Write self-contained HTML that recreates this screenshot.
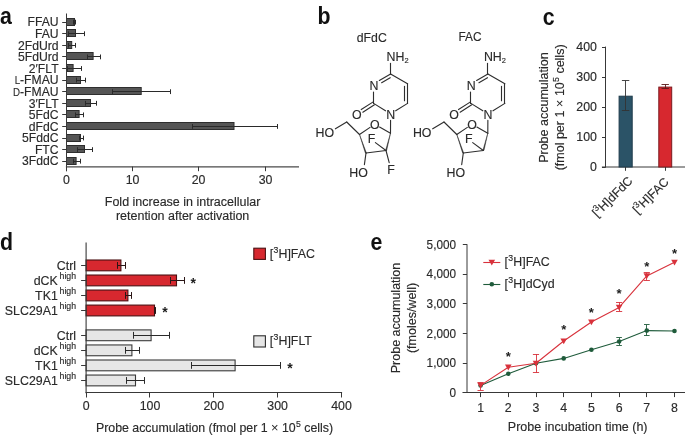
<!DOCTYPE html>
<html lang="en"><head><meta charset="utf-8"><title>Figure</title>
<style>
html,body{margin:0;padding:0;background:#fff;}
body{width:685px;height:438px;overflow:hidden;}
svg{display:block;font-family:"Liberation Sans",sans-serif;}
svg text{font-family:"Liberation Sans",sans-serif;}
</style></head><body>
<svg width="685" height="438" viewBox="0 0 685 438">
<rect width="685" height="438" fill="#ffffff"/>
<text transform="translate(0.00,24.40) scale(0.87,1)" text-anchor="start" font-size="24.5" fill="#111" font-weight="bold" >a</text>
<text transform="translate(317.60,24.30) scale(0.87,1)" text-anchor="start" font-size="24.5" fill="#111" font-weight="bold" >b</text>
<text transform="translate(542.80,24.50) scale(0.87,1)" text-anchor="start" font-size="24.5" fill="#111" font-weight="bold" >c</text>
<text transform="translate(0.00,249.90) scale(0.87,1)" text-anchor="start" font-size="24.5" fill="#111" font-weight="bold" >d</text>
<text transform="translate(370.60,250.10) scale(0.87,1)" text-anchor="start" font-size="24.5" fill="#111" font-weight="bold" >e</text>
<rect x="66.50" y="18.50" width="8.00" height="7.00" fill="#555555" stroke="#2e2e2e" stroke-width="1"/>
<line x1="73.80" y1="22.50" x2="75.80" y2="22.50" stroke="#2a2a2a" stroke-width="1" />
<line x1="73.50" y1="19.75" x2="73.50" y2="24.55" stroke="#2a2a2a" stroke-width="1" />
<line x1="75.50" y1="19.75" x2="75.50" y2="24.55" stroke="#2a2a2a" stroke-width="1" />
<line x1="62.20" y1="22.50" x2="66.40" y2="22.50" stroke="#383838" stroke-width="1" />
<text transform="translate(58.60,26.45) scale(0.975,1)" text-anchor="end" font-size="12.5" fill="#2a2a2a" stroke="#2a2a2a" stroke-width="0.15" >FFAU</text>
<rect x="66.50" y="29.50" width="9.00" height="7.00" fill="#555555" stroke="#2e2e2e" stroke-width="1"/>
<line x1="68.00" y1="33.50" x2="84.90" y2="33.50" stroke="#2a2a2a" stroke-width="1" />
<line x1="68.50" y1="31.34" x2="68.50" y2="36.14" stroke="#2a2a2a" stroke-width="1" />
<line x1="84.50" y1="31.34" x2="84.50" y2="36.14" stroke="#2a2a2a" stroke-width="1" />
<line x1="62.20" y1="33.50" x2="66.40" y2="33.50" stroke="#383838" stroke-width="1" />
<text transform="translate(58.60,38.04) scale(0.975,1)" text-anchor="end" font-size="12.5" fill="#2a2a2a" stroke="#2a2a2a" stroke-width="0.15" >FAU</text>
<rect x="66.50" y="41.50" width="5.20" height="7.00" fill="#555555" stroke="#2e2e2e" stroke-width="1"/>
<line x1="68.60" y1="45.50" x2="75.40" y2="45.50" stroke="#2a2a2a" stroke-width="1" />
<line x1="68.50" y1="42.92" x2="68.50" y2="47.72" stroke="#2a2a2a" stroke-width="1" />
<line x1="75.50" y1="42.92" x2="75.50" y2="47.72" stroke="#2a2a2a" stroke-width="1" />
<line x1="62.20" y1="45.50" x2="66.40" y2="45.50" stroke="#383838" stroke-width="1" />
<text transform="translate(58.60,49.62) scale(0.975,1)" text-anchor="end" font-size="12.5" fill="#2a2a2a" stroke="#2a2a2a" stroke-width="0.15" >2FdUrd</text>
<rect x="66.50" y="52.50" width="26.60" height="7.00" fill="#555555" stroke="#2e2e2e" stroke-width="1"/>
<line x1="87.40" y1="56.50" x2="100.00" y2="56.50" stroke="#2a2a2a" stroke-width="1" />
<line x1="87.50" y1="54.51" x2="87.50" y2="59.31" stroke="#2a2a2a" stroke-width="1" />
<line x1="100.50" y1="54.51" x2="100.50" y2="59.31" stroke="#2a2a2a" stroke-width="1" />
<line x1="62.20" y1="56.50" x2="66.40" y2="56.50" stroke="#383838" stroke-width="1" />
<text transform="translate(58.60,61.21) scale(0.975,1)" text-anchor="end" font-size="12.5" fill="#2a2a2a" stroke="#2a2a2a" stroke-width="0.15" >5FdUrd</text>
<rect x="66.50" y="64.50" width="6.60" height="7.00" fill="#555555" stroke="#2e2e2e" stroke-width="1"/>
<line x1="67.00" y1="68.50" x2="81.40" y2="68.50" stroke="#2a2a2a" stroke-width="1" />
<line x1="67.50" y1="66.10" x2="67.50" y2="70.90" stroke="#2a2a2a" stroke-width="1" />
<line x1="81.50" y1="66.10" x2="81.50" y2="70.90" stroke="#2a2a2a" stroke-width="1" />
<line x1="62.20" y1="68.50" x2="66.40" y2="68.50" stroke="#383838" stroke-width="1" />
<text transform="translate(58.60,72.80) scale(0.975,1)" text-anchor="end" font-size="12.5" fill="#2a2a2a" stroke="#2a2a2a" stroke-width="0.15" >2′FLT</text>
<rect x="66.50" y="76.50" width="14.00" height="7.00" fill="#555555" stroke="#2e2e2e" stroke-width="1"/>
<line x1="76.80" y1="80.50" x2="85.60" y2="80.50" stroke="#2a2a2a" stroke-width="1" />
<line x1="76.50" y1="77.69" x2="76.50" y2="82.49" stroke="#2a2a2a" stroke-width="1" />
<line x1="85.50" y1="77.69" x2="85.50" y2="82.49" stroke="#2a2a2a" stroke-width="1" />
<line x1="62.20" y1="80.50" x2="66.40" y2="80.50" stroke="#383838" stroke-width="1" />
<text transform="translate(58.60,84.39) scale(0.975,1)" text-anchor="end" font-size="12.5" fill="#2a2a2a" stroke="#2a2a2a" stroke-width="0.15" ><tspan font-size="10" stroke-width="0.1">L</tspan>-FMAU</text>
<rect x="66.50" y="87.50" width="74.70" height="7.00" fill="#555555" stroke="#2e2e2e" stroke-width="1"/>
<line x1="112.00" y1="91.50" x2="170.40" y2="91.50" stroke="#2a2a2a" stroke-width="1" />
<line x1="112.50" y1="89.27" x2="112.50" y2="94.07" stroke="#2a2a2a" stroke-width="1" />
<line x1="170.50" y1="89.27" x2="170.50" y2="94.07" stroke="#2a2a2a" stroke-width="1" />
<line x1="62.20" y1="91.50" x2="66.40" y2="91.50" stroke="#383838" stroke-width="1" />
<text transform="translate(58.60,95.97) scale(0.975,1)" text-anchor="end" font-size="12.5" fill="#2a2a2a" stroke="#2a2a2a" stroke-width="0.15" ><tspan font-size="10" stroke-width="0.1">D</tspan>-FMAU</text>
<rect x="66.50" y="99.50" width="24.00" height="7.00" fill="#555555" stroke="#2e2e2e" stroke-width="1"/>
<line x1="85.60" y1="103.50" x2="96.20" y2="103.50" stroke="#2a2a2a" stroke-width="1" />
<line x1="85.50" y1="100.86" x2="85.50" y2="105.66" stroke="#2a2a2a" stroke-width="1" />
<line x1="96.50" y1="100.86" x2="96.50" y2="105.66" stroke="#2a2a2a" stroke-width="1" />
<line x1="62.20" y1="103.50" x2="66.40" y2="103.50" stroke="#383838" stroke-width="1" />
<text transform="translate(58.60,107.56) scale(0.975,1)" text-anchor="end" font-size="12.5" fill="#2a2a2a" stroke="#2a2a2a" stroke-width="0.15" >3′FLT</text>
<rect x="66.50" y="110.50" width="12.60" height="7.00" fill="#555555" stroke="#2e2e2e" stroke-width="1"/>
<line x1="75.60" y1="114.50" x2="83.60" y2="114.50" stroke="#2a2a2a" stroke-width="1" />
<line x1="75.50" y1="112.45" x2="75.50" y2="117.25" stroke="#2a2a2a" stroke-width="1" />
<line x1="83.50" y1="112.45" x2="83.50" y2="117.25" stroke="#2a2a2a" stroke-width="1" />
<line x1="62.20" y1="114.50" x2="66.40" y2="114.50" stroke="#383838" stroke-width="1" />
<text transform="translate(58.60,119.15) scale(0.975,1)" text-anchor="end" font-size="12.5" fill="#2a2a2a" stroke="#2a2a2a" stroke-width="0.15" >5FdC</text>
<rect x="66.50" y="122.50" width="167.50" height="7.00" fill="#555555" stroke="#2e2e2e" stroke-width="1"/>
<line x1="192.50" y1="126.50" x2="277.10" y2="126.50" stroke="#2a2a2a" stroke-width="1" />
<line x1="192.50" y1="124.03" x2="192.50" y2="128.83" stroke="#2a2a2a" stroke-width="1" />
<line x1="277.50" y1="124.03" x2="277.50" y2="128.83" stroke="#2a2a2a" stroke-width="1" />
<line x1="62.20" y1="126.50" x2="66.40" y2="126.50" stroke="#383838" stroke-width="1" />
<text transform="translate(58.60,130.73) scale(0.975,1)" text-anchor="end" font-size="12.5" fill="#2a2a2a" stroke="#2a2a2a" stroke-width="0.15" >dFdC</text>
<rect x="66.50" y="134.50" width="14.00" height="7.00" fill="#555555" stroke="#2e2e2e" stroke-width="1"/>
<line x1="79.00" y1="138.50" x2="83.60" y2="138.50" stroke="#2a2a2a" stroke-width="1" />
<line x1="79.50" y1="135.62" x2="79.50" y2="140.42" stroke="#2a2a2a" stroke-width="1" />
<line x1="83.50" y1="135.62" x2="83.50" y2="140.42" stroke="#2a2a2a" stroke-width="1" />
<line x1="62.20" y1="138.50" x2="66.40" y2="138.50" stroke="#383838" stroke-width="1" />
<text transform="translate(58.60,142.32) scale(0.975,1)" text-anchor="end" font-size="12.5" fill="#2a2a2a" stroke="#2a2a2a" stroke-width="0.15" >5FddC</text>
<rect x="66.50" y="145.50" width="18.00" height="7.00" fill="#555555" stroke="#2e2e2e" stroke-width="1"/>
<line x1="77.60" y1="149.50" x2="92.60" y2="149.50" stroke="#2a2a2a" stroke-width="1" />
<line x1="77.50" y1="147.21" x2="77.50" y2="152.01" stroke="#2a2a2a" stroke-width="1" />
<line x1="92.50" y1="147.21" x2="92.50" y2="152.01" stroke="#2a2a2a" stroke-width="1" />
<line x1="62.20" y1="149.50" x2="66.40" y2="149.50" stroke="#383838" stroke-width="1" />
<text transform="translate(58.60,153.91) scale(0.975,1)" text-anchor="end" font-size="12.5" fill="#2a2a2a" stroke="#2a2a2a" stroke-width="0.15" >FTC</text>
<rect x="66.50" y="157.50" width="9.60" height="7.00" fill="#555555" stroke="#2e2e2e" stroke-width="1"/>
<line x1="73.00" y1="161.50" x2="80.60" y2="161.50" stroke="#2a2a2a" stroke-width="1" />
<line x1="73.50" y1="158.79" x2="73.50" y2="163.59" stroke="#2a2a2a" stroke-width="1" />
<line x1="80.50" y1="158.79" x2="80.50" y2="163.59" stroke="#2a2a2a" stroke-width="1" />
<line x1="62.20" y1="161.50" x2="66.40" y2="161.50" stroke="#383838" stroke-width="1" />
<text transform="translate(58.60,165.49) scale(0.975,1)" text-anchor="end" font-size="12.5" fill="#2a2a2a" stroke="#2a2a2a" stroke-width="0.15" >3FddC</text>
<line x1="66.50" y1="13.50" x2="66.50" y2="171.20" stroke="#383838" stroke-width="1" />
<line x1="65.90" y1="166.80" x2="299.00" y2="166.80" stroke="#4a4a4a" stroke-width="1.2" />
<line x1="66.50" y1="166.60" x2="66.50" y2="171.20" stroke="#383838" stroke-width="1" />
<text transform="translate(66.50,184.30) scale(0.99,1)" text-anchor="middle" font-size="12.5" fill="#2a2a2a" stroke="#2a2a2a" stroke-width="0.15" >0</text>
<line x1="132.50" y1="166.60" x2="132.50" y2="171.20" stroke="#383838" stroke-width="1" />
<text transform="translate(132.50,184.30) scale(0.99,1)" text-anchor="middle" font-size="12.5" fill="#2a2a2a" stroke="#2a2a2a" stroke-width="0.15" >10</text>
<line x1="198.50" y1="166.60" x2="198.50" y2="171.20" stroke="#383838" stroke-width="1" />
<text transform="translate(198.60,184.30) scale(0.99,1)" text-anchor="middle" font-size="12.5" fill="#2a2a2a" stroke="#2a2a2a" stroke-width="0.15" >20</text>
<line x1="265.50" y1="166.60" x2="265.50" y2="171.20" stroke="#383838" stroke-width="1" />
<text transform="translate(265.50,184.30) scale(0.99,1)" text-anchor="middle" font-size="12.5" fill="#2a2a2a" stroke="#2a2a2a" stroke-width="0.15" >30</text>
<text transform="translate(182.60,206.30) scale(1.0,1)" text-anchor="middle" font-size="12.5" fill="#2a2a2a" stroke="#2a2a2a" stroke-width="0.15" >Fold increase in intracellular</text>
<text transform="translate(182.60,219.70) scale(1.0,1)" text-anchor="middle" font-size="12.5" fill="#2a2a2a" stroke="#2a2a2a" stroke-width="0.15" >retention after activation</text>
<line x1="390.60" y1="74.00" x2="407.57" y2="83.80" stroke="#2e2e2e" stroke-width="1.12" stroke-linecap="round"/>
<line x1="407.50" y1="83.80" x2="407.50" y2="103.40" stroke="#2e2e2e" stroke-width="1.12" stroke-linecap="round"/>
<line x1="407.57" y1="103.40" x2="395.69" y2="110.82" stroke="#2e2e2e" stroke-width="1.12" stroke-linecap="round"/>
<line x1="385.51" y1="110.82" x2="373.63" y2="103.40" stroke="#2e2e2e" stroke-width="1.12" stroke-linecap="round"/>
<line x1="373.50" y1="103.40" x2="373.50" y2="92.00" stroke="#2e2e2e" stroke-width="1.12" stroke-linecap="round"/>
<line x1="379.34" y1="80.50" x2="390.60" y2="74.00" stroke="#2e2e2e" stroke-width="1.12" stroke-linecap="round"/>
<line x1="404.50" y1="86.40" x2="404.50" y2="100.80" stroke="#2e2e2e" stroke-width="1.12" stroke-linecap="round"/>
<line x1="381.62" y1="82.65" x2="390.19" y2="77.70" stroke="#2e2e2e" stroke-width="1.12" stroke-linecap="round"/>
<line x1="390.50" y1="74.00" x2="390.50" y2="63.40" stroke="#2e2e2e" stroke-width="1.12" stroke-linecap="round"/>
<text transform="translate(386.60,60.60) scale(0.99,1)" text-anchor="start" font-size="12.5" fill="#2a2a2a" stroke="#2a2a2a" stroke-width="0.15" >NH<tspan font-size="7.5" dy="2.6">2</tspan></text>
<text transform="translate(373.93,89.80) scale(0.99,1)" text-anchor="middle" font-size="12.5" fill="#2a2a2a" stroke="#2a2a2a" stroke-width="0.15" >N</text>
<text transform="translate(390.60,118.70) scale(0.99,1)" text-anchor="middle" font-size="12.5" fill="#2a2a2a" stroke="#2a2a2a" stroke-width="0.15" >N</text>
<line x1="372.83" y1="102.10" x2="361.22" y2="109.55" stroke="#2e2e2e" stroke-width="1.12" stroke-linecap="round"/>
<line x1="374.43" y1="104.80" x2="362.82" y2="112.25" stroke="#2e2e2e" stroke-width="1.12" stroke-linecap="round"/>
<text transform="translate(356.80,118.90) scale(0.99,1)" text-anchor="middle" font-size="12.5" fill="#2a2a2a" stroke="#2a2a2a" stroke-width="0.15" >O</text>
<line x1="390.57" y1="120.20" x2="390.50" y2="133.20" stroke="#2e2e2e" stroke-width="1.12" stroke-linecap="round"/>
<line x1="390.50" y1="133.20" x2="379.57" y2="126.97" stroke="#2e2e2e" stroke-width="1.12" stroke-linecap="round"/>
<line x1="370.06" y1="127.34" x2="359.50" y2="134.50" stroke="#2e2e2e" stroke-width="1.12" stroke-linecap="round"/>
<text transform="translate(374.70,128.70) scale(0.99,1)" text-anchor="middle" font-size="12.5" fill="#2a2a2a" stroke="#2a2a2a" stroke-width="0.15" >O</text>
<polygon points="359.50,134.50 365.30,152.90 366.50,153.30" fill="#2e2e2e" stroke="#2e2e2e" stroke-width="0.5"/>
<polygon points="390.50,133.20 385.50,150.70 386.70,150.30" fill="#2e2e2e" stroke="#2e2e2e" stroke-width="0.5"/>
<line x1="366.00" y1="153.00" x2="386.00" y2="150.50" stroke="#2e2e2e" stroke-width="1.12" stroke-linecap="round"/>
<line x1="359.50" y1="134.50" x2="346.70" y2="122.00" stroke="#2e2e2e" stroke-width="1.12" stroke-linecap="round"/>
<line x1="346.70" y1="122.00" x2="335.40" y2="128.80" stroke="#2e2e2e" stroke-width="1.12" stroke-linecap="round"/>
<text transform="translate(315.60,137.20) scale(0.99,1)" text-anchor="start" font-size="12.5" fill="#2a2a2a" stroke="#2a2a2a" stroke-width="0.15" >HO</text>
<line x1="366.00" y1="153.00" x2="364.40" y2="164.60" stroke="#2e2e2e" stroke-width="1.12" stroke-linecap="round"/>
<text transform="translate(349.20,177.20) scale(0.99,1)" text-anchor="start" font-size="12.5" fill="#2a2a2a" stroke="#2a2a2a" stroke-width="0.15" >HO</text>
<line x1="386.00" y1="150.50" x2="375.40" y2="142.60" stroke="#2e2e2e" stroke-width="1.12" stroke-linecap="round"/>
<text transform="translate(371.60,142.80) scale(0.99,1)" text-anchor="middle" font-size="12.5" fill="#2a2a2a" stroke="#2a2a2a" stroke-width="0.15" >F</text>
<line x1="386.00" y1="150.50" x2="389.20" y2="162.60" stroke="#2e2e2e" stroke-width="1.12" stroke-linecap="round"/>
<text transform="translate(391.00,173.80) scale(0.99,1)" text-anchor="middle" font-size="12.5" fill="#2a2a2a" stroke="#2a2a2a" stroke-width="0.15" >F</text>
<text transform="translate(356.80,41.80) scale(0.98,1)" text-anchor="start" font-size="12.5" fill="#2a2a2a" stroke="#2a2a2a" stroke-width="0.15" >dFdC</text>
<line x1="487.90" y1="74.00" x2="504.87" y2="83.80" stroke="#2e2e2e" stroke-width="1.12" stroke-linecap="round"/>
<line x1="504.50" y1="83.80" x2="504.50" y2="103.40" stroke="#2e2e2e" stroke-width="1.12" stroke-linecap="round"/>
<line x1="504.87" y1="103.40" x2="492.99" y2="110.82" stroke="#2e2e2e" stroke-width="1.12" stroke-linecap="round"/>
<line x1="482.81" y1="110.82" x2="470.93" y2="103.40" stroke="#2e2e2e" stroke-width="1.12" stroke-linecap="round"/>
<line x1="470.50" y1="103.40" x2="470.50" y2="92.00" stroke="#2e2e2e" stroke-width="1.12" stroke-linecap="round"/>
<line x1="476.64" y1="80.50" x2="487.90" y2="74.00" stroke="#2e2e2e" stroke-width="1.12" stroke-linecap="round"/>
<line x1="501.50" y1="86.40" x2="501.50" y2="100.80" stroke="#2e2e2e" stroke-width="1.12" stroke-linecap="round"/>
<line x1="478.92" y1="82.65" x2="487.49" y2="77.70" stroke="#2e2e2e" stroke-width="1.12" stroke-linecap="round"/>
<line x1="487.50" y1="74.00" x2="487.50" y2="63.40" stroke="#2e2e2e" stroke-width="1.12" stroke-linecap="round"/>
<text transform="translate(483.90,60.60) scale(0.99,1)" text-anchor="start" font-size="12.5" fill="#2a2a2a" stroke="#2a2a2a" stroke-width="0.15" >NH<tspan font-size="7.5" dy="2.6">2</tspan></text>
<text transform="translate(471.23,89.80) scale(0.99,1)" text-anchor="middle" font-size="12.5" fill="#2a2a2a" stroke="#2a2a2a" stroke-width="0.15" >N</text>
<text transform="translate(487.90,118.70) scale(0.99,1)" text-anchor="middle" font-size="12.5" fill="#2a2a2a" stroke="#2a2a2a" stroke-width="0.15" >N</text>
<line x1="470.13" y1="102.10" x2="458.52" y2="109.55" stroke="#2e2e2e" stroke-width="1.12" stroke-linecap="round"/>
<line x1="471.73" y1="104.80" x2="460.12" y2="112.25" stroke="#2e2e2e" stroke-width="1.12" stroke-linecap="round"/>
<text transform="translate(454.10,118.90) scale(0.99,1)" text-anchor="middle" font-size="12.5" fill="#2a2a2a" stroke="#2a2a2a" stroke-width="0.15" >O</text>
<line x1="487.87" y1="120.20" x2="487.80" y2="133.20" stroke="#2e2e2e" stroke-width="1.12" stroke-linecap="round"/>
<line x1="487.80" y1="133.20" x2="476.87" y2="126.97" stroke="#2e2e2e" stroke-width="1.12" stroke-linecap="round"/>
<line x1="467.36" y1="127.34" x2="456.80" y2="134.50" stroke="#2e2e2e" stroke-width="1.12" stroke-linecap="round"/>
<text transform="translate(472.00,128.70) scale(0.99,1)" text-anchor="middle" font-size="12.5" fill="#2a2a2a" stroke="#2a2a2a" stroke-width="0.15" >O</text>
<polygon points="456.80,134.50 462.60,152.90 463.80,153.30" fill="#2e2e2e" stroke="#2e2e2e" stroke-width="0.5"/>
<polygon points="487.80,133.20 482.80,150.70 484.00,150.30" fill="#2e2e2e" stroke="#2e2e2e" stroke-width="0.5"/>
<line x1="463.30" y1="153.00" x2="483.30" y2="150.50" stroke="#2e2e2e" stroke-width="1.12" stroke-linecap="round"/>
<line x1="456.80" y1="134.50" x2="444.00" y2="122.00" stroke="#2e2e2e" stroke-width="1.12" stroke-linecap="round"/>
<line x1="444.00" y1="122.00" x2="432.70" y2="128.80" stroke="#2e2e2e" stroke-width="1.12" stroke-linecap="round"/>
<text transform="translate(412.90,137.20) scale(0.99,1)" text-anchor="start" font-size="12.5" fill="#2a2a2a" stroke="#2a2a2a" stroke-width="0.15" >HO</text>
<line x1="463.30" y1="153.00" x2="461.70" y2="164.60" stroke="#2e2e2e" stroke-width="1.12" stroke-linecap="round"/>
<text transform="translate(446.50,177.20) scale(0.99,1)" text-anchor="start" font-size="12.5" fill="#2a2a2a" stroke="#2a2a2a" stroke-width="0.15" >HO</text>
<line x1="483.30" y1="150.50" x2="472.70" y2="142.60" stroke="#2e2e2e" stroke-width="1.12" stroke-linecap="round"/>
<text transform="translate(468.90,142.80) scale(0.99,1)" text-anchor="middle" font-size="12.5" fill="#2a2a2a" stroke="#2a2a2a" stroke-width="0.15" >F</text>
<text transform="translate(458.40,41.00) scale(0.95,1)" text-anchor="start" font-size="12.5" fill="#2a2a2a" stroke="#2a2a2a" stroke-width="0.15" >FAC</text>
<line x1="605.50" y1="46.60" x2="605.50" y2="167.50" stroke="#383838" stroke-width="1" />
<line x1="601.90" y1="167.00" x2="685.00" y2="167.00" stroke="#383838" stroke-width="1" />
<line x1="602.00" y1="167.50" x2="605.60" y2="167.50" stroke="#383838" stroke-width="1" />
<text transform="translate(597.00,171.10) scale(0.99,1)" text-anchor="end" font-size="12.5" fill="#2a2a2a" stroke="#2a2a2a" stroke-width="0.15" >0</text>
<line x1="602.00" y1="137.50" x2="605.60" y2="137.50" stroke="#383838" stroke-width="1" />
<text transform="translate(597.00,141.15) scale(0.99,1)" text-anchor="end" font-size="12.5" fill="#2a2a2a" stroke="#2a2a2a" stroke-width="0.15" >100</text>
<line x1="602.00" y1="107.50" x2="605.60" y2="107.50" stroke="#383838" stroke-width="1" />
<text transform="translate(597.00,111.20) scale(0.99,1)" text-anchor="end" font-size="12.5" fill="#2a2a2a" stroke="#2a2a2a" stroke-width="0.15" >200</text>
<line x1="602.00" y1="77.50" x2="605.60" y2="77.50" stroke="#383838" stroke-width="1" />
<text transform="translate(597.00,81.25) scale(0.99,1)" text-anchor="end" font-size="12.5" fill="#2a2a2a" stroke="#2a2a2a" stroke-width="0.15" >300</text>
<line x1="602.00" y1="47.50" x2="605.60" y2="47.50" stroke="#383838" stroke-width="1" />
<text transform="translate(597.00,51.30) scale(0.99,1)" text-anchor="end" font-size="12.5" fill="#2a2a2a" stroke="#2a2a2a" stroke-width="0.15" >400</text>
<rect x="619.10" y="96.20" width="13.10" height="70.80" fill="#2b5367" stroke="#1e3b4a" stroke-width="1"/>
<line x1="625.50" y1="80.70" x2="625.50" y2="110.40" stroke="#333" stroke-width="0.9" />
<line x1="621.90" y1="80.50" x2="629.30" y2="80.50" stroke="#333" stroke-width="0.9" />
<line x1="621.90" y1="110.50" x2="629.30" y2="110.50" stroke="#333" stroke-width="0.9" />
<rect x="658.80" y="87.10" width="12.90" height="79.90" fill="#d7282f" stroke="#7a1a1e" stroke-width="1"/>
<line x1="665.50" y1="84.30" x2="665.50" y2="88.90" stroke="#5a1a1a" stroke-width="0.9" />
<line x1="661.50" y1="84.50" x2="668.90" y2="84.50" stroke="#5a1a1a" stroke-width="0.9" />
<line x1="661.50" y1="88.50" x2="668.90" y2="88.50" stroke="#5a1a1a" stroke-width="0.9" />
<line x1="625.50" y1="167.00" x2="625.50" y2="170.80" stroke="#383838" stroke-width="1" />
<line x1="665.50" y1="167.00" x2="665.50" y2="170.80" stroke="#383838" stroke-width="1" />
<text transform="translate(633.40,181.60) rotate(-45) scale(0.99,1)" text-anchor="end" font-size="12.5" fill="#2a2a2a" stroke="#2a2a2a" stroke-width="0.15" >[<tspan font-size="8.8" dy="-4.9" dx="0.2">3</tspan><tspan dy="4.9" dx="0.2">H]</tspan>dFdC</text>
<text transform="translate(669.60,182.60) rotate(-45) scale(0.99,1)" text-anchor="end" font-size="12.5" fill="#2a2a2a" stroke="#2a2a2a" stroke-width="0.15" >[<tspan font-size="8.8" dy="-4.9" dx="0.2">3</tspan><tspan dy="4.9" dx="0.2">H]</tspan>FAC</text>
<text transform="translate(547.60,107.60) rotate(-90) scale(1.0,1)" text-anchor="middle" font-size="12.5" fill="#2a2a2a" stroke="#2a2a2a" stroke-width="0.15" >Probe accumulation</text>
<text transform="translate(564.40,107.40) rotate(-90) scale(1.0,1)" text-anchor="middle" font-size="12.5" fill="#2a2a2a" stroke="#2a2a2a" stroke-width="0.15" >(fmol per 1 <tspan font-size="13" stroke-width="0">×</tspan> 10<tspan font-size="8.8" dy="-5.1" dx="0.2">5</tspan><tspan dy="5.1"> cells)</tspan></text>
<rect x="86.10" y="260.00" width="34.80" height="10.80" fill="#d7282f" stroke="#4a1012" stroke-width="1.1"/>
<line x1="117.40" y1="265.50" x2="125.40" y2="265.50" stroke="#2a1616" stroke-width="1" />
<line x1="117.50" y1="262.00" x2="117.50" y2="268.80" stroke="#2a1616" stroke-width="1" />
<line x1="125.50" y1="262.00" x2="125.50" y2="268.80" stroke="#2a1616" stroke-width="1" />
<line x1="81.10" y1="265.50" x2="86.10" y2="265.50" stroke="#383838" stroke-width="1" />
<text transform="translate(76.00,269.80) scale(0.99,1)" text-anchor="end" font-size="12.5" fill="#2a2a2a" stroke="#2a2a2a" stroke-width="0.15" >Ctrl</text>
<rect x="86.10" y="329.90" width="65.00" height="10.80" fill="#e6e6e6" stroke="#3a3a3a" stroke-width="1.1"/>
<line x1="133.60" y1="335.50" x2="169.40" y2="335.50" stroke="#2a2a2a" stroke-width="1" />
<line x1="133.50" y1="331.90" x2="133.50" y2="338.70" stroke="#2a2a2a" stroke-width="1" />
<line x1="169.50" y1="331.90" x2="169.50" y2="338.70" stroke="#2a2a2a" stroke-width="1" />
<line x1="81.10" y1="335.50" x2="86.10" y2="335.50" stroke="#383838" stroke-width="1" />
<text transform="translate(76.00,339.70) scale(0.99,1)" text-anchor="end" font-size="12.5" fill="#2a2a2a" stroke="#2a2a2a" stroke-width="0.15" >Ctrl</text>
<rect x="86.10" y="275.03" width="90.40" height="10.80" fill="#d7282f" stroke="#4a1012" stroke-width="1.1"/>
<line x1="170.40" y1="280.50" x2="184.00" y2="280.50" stroke="#2a1616" stroke-width="1" />
<line x1="170.50" y1="277.03" x2="170.50" y2="283.83" stroke="#2a1616" stroke-width="1" />
<line x1="184.50" y1="277.03" x2="184.50" y2="283.83" stroke="#2a1616" stroke-width="1" />
<line x1="81.10" y1="280.50" x2="86.10" y2="280.50" stroke="#383838" stroke-width="1" />
<text transform="translate(76.00,284.83) scale(0.99,1)" text-anchor="end" font-size="12.5" fill="#2a2a2a" stroke="#2a2a2a" stroke-width="0.15" >dCK<tspan font-size="8.8" dy="-5.9" dx="1.8">high</tspan></text>
<rect x="86.10" y="344.95" width="45.80" height="10.80" fill="#e6e6e6" stroke="#3a3a3a" stroke-width="1.1"/>
<line x1="125.40" y1="350.50" x2="139.40" y2="350.50" stroke="#2a2a2a" stroke-width="1" />
<line x1="125.50" y1="346.95" x2="125.50" y2="353.75" stroke="#2a2a2a" stroke-width="1" />
<line x1="139.50" y1="346.95" x2="139.50" y2="353.75" stroke="#2a2a2a" stroke-width="1" />
<line x1="81.10" y1="350.50" x2="86.10" y2="350.50" stroke="#383838" stroke-width="1" />
<text transform="translate(76.00,354.75) scale(0.99,1)" text-anchor="end" font-size="12.5" fill="#2a2a2a" stroke="#2a2a2a" stroke-width="0.15" >dCK<tspan font-size="8.8" dy="-5.9" dx="1.8">high</tspan></text>
<rect x="86.10" y="290.06" width="41.80" height="10.80" fill="#d7282f" stroke="#4a1012" stroke-width="1.1"/>
<line x1="125.60" y1="295.50" x2="131.60" y2="295.50" stroke="#2a1616" stroke-width="1" />
<line x1="125.50" y1="292.06" x2="125.50" y2="298.86" stroke="#2a1616" stroke-width="1" />
<line x1="131.50" y1="292.06" x2="131.50" y2="298.86" stroke="#2a1616" stroke-width="1" />
<line x1="81.10" y1="295.50" x2="86.10" y2="295.50" stroke="#383838" stroke-width="1" />
<text transform="translate(76.00,299.86) scale(0.99,1)" text-anchor="end" font-size="12.5" fill="#2a2a2a" stroke="#2a2a2a" stroke-width="0.15" >TK1<tspan font-size="8.8" dy="-5.9" dx="1.8">high</tspan></text>
<rect x="86.10" y="360.00" width="149.00" height="10.80" fill="#e6e6e6" stroke="#3a3a3a" stroke-width="1.1"/>
<line x1="191.40" y1="365.50" x2="280.40" y2="365.50" stroke="#2a2a2a" stroke-width="1" />
<line x1="191.50" y1="362.00" x2="191.50" y2="368.80" stroke="#2a2a2a" stroke-width="1" />
<line x1="280.50" y1="362.00" x2="280.50" y2="368.80" stroke="#2a2a2a" stroke-width="1" />
<line x1="81.10" y1="365.50" x2="86.10" y2="365.50" stroke="#383838" stroke-width="1" />
<text transform="translate(76.00,369.80) scale(0.99,1)" text-anchor="end" font-size="12.5" fill="#2a2a2a" stroke="#2a2a2a" stroke-width="0.15" >TK1<tspan font-size="8.8" dy="-5.9" dx="1.8">high</tspan></text>
<rect x="86.10" y="305.09" width="68.40" height="10.80" fill="#d7282f" stroke="#4a1012" stroke-width="1.1"/>
<line x1="154.40" y1="310.50" x2="155.60" y2="310.50" stroke="#2a1616" stroke-width="1" />
<line x1="154.50" y1="307.09" x2="154.50" y2="313.89" stroke="#2a1616" stroke-width="1" />
<line x1="155.50" y1="307.09" x2="155.50" y2="313.89" stroke="#2a1616" stroke-width="1" />
<line x1="81.10" y1="310.50" x2="86.10" y2="310.50" stroke="#383838" stroke-width="1" />
<text transform="translate(76.00,314.89) scale(0.99,1)" text-anchor="end" font-size="12.5" fill="#2a2a2a" stroke="#2a2a2a" stroke-width="0.15" >SLC29A1<tspan font-size="8.8" dy="-5.9" dx="1.8">high</tspan></text>
<rect x="86.10" y="375.05" width="49.40" height="10.80" fill="#e6e6e6" stroke="#3a3a3a" stroke-width="1.1"/>
<line x1="126.40" y1="380.50" x2="144.60" y2="380.50" stroke="#2a2a2a" stroke-width="1" />
<line x1="126.50" y1="377.05" x2="126.50" y2="383.85" stroke="#2a2a2a" stroke-width="1" />
<line x1="144.50" y1="377.05" x2="144.50" y2="383.85" stroke="#2a2a2a" stroke-width="1" />
<line x1="81.10" y1="380.50" x2="86.10" y2="380.50" stroke="#383838" stroke-width="1" />
<text transform="translate(76.00,384.85) scale(0.99,1)" text-anchor="end" font-size="12.5" fill="#2a2a2a" stroke="#2a2a2a" stroke-width="0.15" >SLC29A1<tspan font-size="8.8" dy="-5.9" dx="1.8">high</tspan></text>
<line x1="86.10" y1="242.50" x2="86.10" y2="393.30" stroke="#383838" stroke-width="1.1" />
<line x1="85.60" y1="392.50" x2="342.10" y2="392.50" stroke="#383838" stroke-width="1" />
<line x1="86.50" y1="392.80" x2="86.50" y2="397.50" stroke="#383838" stroke-width="1" />
<text transform="translate(86.10,409.60) scale(0.99,1)" text-anchor="middle" font-size="12.5" fill="#2a2a2a" stroke="#2a2a2a" stroke-width="0.15" >0</text>
<line x1="149.50" y1="392.80" x2="149.50" y2="397.50" stroke="#383838" stroke-width="1" />
<text transform="translate(149.95,409.60) scale(0.99,1)" text-anchor="middle" font-size="12.5" fill="#2a2a2a" stroke="#2a2a2a" stroke-width="0.15" >100</text>
<line x1="213.50" y1="392.80" x2="213.50" y2="397.50" stroke="#383838" stroke-width="1" />
<text transform="translate(213.80,409.60) scale(0.99,1)" text-anchor="middle" font-size="12.5" fill="#2a2a2a" stroke="#2a2a2a" stroke-width="0.15" >200</text>
<line x1="277.50" y1="392.80" x2="277.50" y2="397.50" stroke="#383838" stroke-width="1" />
<text transform="translate(277.65,409.60) scale(0.99,1)" text-anchor="middle" font-size="12.5" fill="#2a2a2a" stroke="#2a2a2a" stroke-width="0.15" >300</text>
<line x1="341.50" y1="392.80" x2="341.50" y2="397.50" stroke="#383838" stroke-width="1" />
<text transform="translate(341.50,409.60) scale(0.99,1)" text-anchor="middle" font-size="12.5" fill="#2a2a2a" stroke="#2a2a2a" stroke-width="0.15" >400</text>
<text x="193.30" y="287.60" text-anchor="middle" font-size="14.0" font-weight="bold" fill="#1c1c1c">*</text>
<text x="165.10" y="317.30" text-anchor="middle" font-size="14.0" font-weight="bold" fill="#1c1c1c">*</text>
<text x="290.00" y="372.80" text-anchor="middle" font-size="14.0" font-weight="bold" fill="#1c1c1c">*</text>
<rect x="253.80" y="248.20" width="11.60" height="11.20" fill="#d7282f" stroke="#4a1012" stroke-width="1.1"/>
<text transform="translate(269.80,257.60) scale(0.99,1)" text-anchor="start" font-size="12.5" fill="#2a2a2a" stroke="#2a2a2a" stroke-width="0.15" >[<tspan font-size="8.8" dy="-4.9" dx="0.2">3</tspan><tspan dy="4.9" dx="0.2">H]</tspan>FAC</text>
<rect x="253.80" y="335.80" width="11.60" height="11.20" fill="#e6e6e6" stroke="#2e2e2e" stroke-width="1.1"/>
<text transform="translate(269.80,345.10) scale(0.99,1)" text-anchor="start" font-size="12.5" fill="#2a2a2a" stroke="#2a2a2a" stroke-width="0.15" >[<tspan font-size="8.8" dy="-4.9" dx="0.2">3</tspan><tspan dy="4.9" dx="0.2">H]</tspan>FLT</text>
<text transform="translate(214.50,432.00) scale(0.99,1)" text-anchor="middle" font-size="12.5" fill="#2a2a2a" stroke="#2a2a2a" stroke-width="0.15" >Probe accumulation (fmol per 1 <tspan font-size="13" stroke-width="0">×</tspan> 10<tspan font-size="8.8" dy="-5.1" dx="0.2">5</tspan><tspan dy="5.1"> cells)</tspan></text>
<line x1="467.00" y1="244.20" x2="467.00" y2="392.90" stroke="#383838" stroke-width="1" />
<line x1="462.60" y1="392.50" x2="685.00" y2="392.50" stroke="#383838" stroke-width="1" />
<line x1="462.80" y1="392.50" x2="467.00" y2="392.50" stroke="#383838" stroke-width="1" />
<text transform="translate(456.00,397.00) scale(0.94,1)" text-anchor="end" font-size="12.5" fill="#2a2a2a" stroke="#2a2a2a" stroke-width="0.15" >0</text>
<line x1="462.80" y1="363.50" x2="467.00" y2="363.50" stroke="#383838" stroke-width="1" />
<text transform="translate(456.00,367.35) scale(0.94,1)" text-anchor="end" font-size="12.5" fill="#2a2a2a" stroke="#2a2a2a" stroke-width="0.15" >1,000</text>
<line x1="462.80" y1="333.50" x2="467.00" y2="333.50" stroke="#383838" stroke-width="1" />
<text transform="translate(456.00,337.70) scale(0.94,1)" text-anchor="end" font-size="12.5" fill="#2a2a2a" stroke="#2a2a2a" stroke-width="0.15" >2,000</text>
<line x1="462.80" y1="303.50" x2="467.00" y2="303.50" stroke="#383838" stroke-width="1" />
<text transform="translate(456.00,308.05) scale(0.94,1)" text-anchor="end" font-size="12.5" fill="#2a2a2a" stroke="#2a2a2a" stroke-width="0.15" >3,000</text>
<line x1="462.80" y1="274.50" x2="467.00" y2="274.50" stroke="#383838" stroke-width="1" />
<text transform="translate(456.00,278.40) scale(0.94,1)" text-anchor="end" font-size="12.5" fill="#2a2a2a" stroke="#2a2a2a" stroke-width="0.15" >4,000</text>
<line x1="462.80" y1="244.50" x2="467.00" y2="244.50" stroke="#383838" stroke-width="1" />
<text transform="translate(456.00,248.75) scale(0.94,1)" text-anchor="end" font-size="12.5" fill="#2a2a2a" stroke="#2a2a2a" stroke-width="0.15" >5,000</text>
<line x1="480.50" y1="392.90" x2="480.50" y2="397.10" stroke="#383838" stroke-width="1" />
<text transform="translate(480.60,411.60) scale(0.99,1)" text-anchor="middle" font-size="12.5" fill="#2a2a2a" stroke="#2a2a2a" stroke-width="0.15" >1</text>
<line x1="508.50" y1="392.90" x2="508.50" y2="397.10" stroke="#383838" stroke-width="1" />
<text transform="translate(508.30,411.60) scale(0.99,1)" text-anchor="middle" font-size="12.5" fill="#2a2a2a" stroke="#2a2a2a" stroke-width="0.15" >2</text>
<line x1="536.50" y1="392.90" x2="536.50" y2="397.10" stroke="#383838" stroke-width="1" />
<text transform="translate(536.00,411.60) scale(0.99,1)" text-anchor="middle" font-size="12.5" fill="#2a2a2a" stroke="#2a2a2a" stroke-width="0.15" >3</text>
<line x1="563.50" y1="392.90" x2="563.50" y2="397.10" stroke="#383838" stroke-width="1" />
<text transform="translate(563.70,411.60) scale(0.99,1)" text-anchor="middle" font-size="12.5" fill="#2a2a2a" stroke="#2a2a2a" stroke-width="0.15" >4</text>
<line x1="591.50" y1="392.90" x2="591.50" y2="397.10" stroke="#383838" stroke-width="1" />
<text transform="translate(591.40,411.60) scale(0.99,1)" text-anchor="middle" font-size="12.5" fill="#2a2a2a" stroke="#2a2a2a" stroke-width="0.15" >5</text>
<line x1="619.50" y1="392.90" x2="619.50" y2="397.10" stroke="#383838" stroke-width="1" />
<text transform="translate(619.10,411.60) scale(0.99,1)" text-anchor="middle" font-size="12.5" fill="#2a2a2a" stroke="#2a2a2a" stroke-width="0.15" >6</text>
<line x1="646.50" y1="392.90" x2="646.50" y2="397.10" stroke="#383838" stroke-width="1" />
<text transform="translate(646.80,411.60) scale(0.99,1)" text-anchor="middle" font-size="12.5" fill="#2a2a2a" stroke="#2a2a2a" stroke-width="0.15" >7</text>
<line x1="674.50" y1="392.90" x2="674.50" y2="397.10" stroke="#383838" stroke-width="1" />
<text transform="translate(674.50,411.60) scale(0.99,1)" text-anchor="middle" font-size="12.5" fill="#2a2a2a" stroke="#2a2a2a" stroke-width="0.15" >8</text>
<polyline points="480.60,385.50 508.30,373.70 536.00,363.30 563.70,358.40 591.40,349.70 619.10,341.50 646.80,330.60 674.50,331.00" fill="none" stroke="#1f5b3b" stroke-width="1.1" stroke-linejoin="round"/>
<circle cx="480.60" cy="385.50" r="2.3" fill="#1f5b3b"/>
<circle cx="508.30" cy="373.70" r="2.3" fill="#1f5b3b"/>
<circle cx="536.00" cy="363.30" r="2.3" fill="#1f5b3b"/>
<circle cx="563.70" cy="358.40" r="2.3" fill="#1f5b3b"/>
<circle cx="591.40" cy="349.70" r="2.3" fill="#1f5b3b"/>
<line x1="619.50" y1="337.80" x2="619.50" y2="345.20" stroke="#1f5b3b" stroke-width="0.9" />
<line x1="616.30" y1="337.50" x2="621.90" y2="337.50" stroke="#1f5b3b" stroke-width="0.9" />
<line x1="616.30" y1="345.50" x2="621.90" y2="345.50" stroke="#1f5b3b" stroke-width="0.9" />
<circle cx="619.10" cy="341.50" r="2.3" fill="#1f5b3b"/>
<line x1="646.50" y1="324.90" x2="646.50" y2="335.60" stroke="#1f5b3b" stroke-width="0.9" />
<line x1="644.00" y1="324.50" x2="649.60" y2="324.50" stroke="#1f5b3b" stroke-width="0.9" />
<line x1="644.00" y1="335.50" x2="649.60" y2="335.50" stroke="#1f5b3b" stroke-width="0.9" />
<circle cx="646.80" cy="330.60" r="2.3" fill="#1f5b3b"/>
<circle cx="674.50" cy="331.00" r="2.3" fill="#1f5b3b"/>
<polyline points="480.60,385.40 508.30,367.20 536.00,363.30 563.70,341.00 591.40,322.00 619.10,307.40 646.80,275.90 674.50,262.30" fill="none" stroke="#d8323c" stroke-width="1.1" stroke-linejoin="round"/>
<line x1="480.50" y1="382.60" x2="480.50" y2="390.40" stroke="#d8323c" stroke-width="0.9" />
<line x1="477.50" y1="382.50" x2="483.70" y2="382.50" stroke="#d8323c" stroke-width="0.9" />
<line x1="477.50" y1="390.50" x2="483.70" y2="390.50" stroke="#d8323c" stroke-width="0.9" />
<polygon points="477.30,382.80 483.90,382.80 480.60,388.60" fill="#d8323c"/>
<polygon points="505.00,364.60 511.60,364.60 508.30,370.40" fill="#d8323c"/>
<line x1="536.50" y1="354.20" x2="536.50" y2="372.80" stroke="#d8323c" stroke-width="0.9" />
<line x1="532.90" y1="354.50" x2="539.10" y2="354.50" stroke="#d8323c" stroke-width="0.9" />
<line x1="532.90" y1="372.50" x2="539.10" y2="372.50" stroke="#d8323c" stroke-width="0.9" />
<polygon points="532.70,360.70 539.30,360.70 536.00,366.50" fill="#d8323c"/>
<polygon points="560.40,338.40 567.00,338.40 563.70,344.20" fill="#d8323c"/>
<polygon points="588.10,319.40 594.70,319.40 591.40,325.20" fill="#d8323c"/>
<line x1="619.50" y1="302.00" x2="619.50" y2="311.40" stroke="#d8323c" stroke-width="0.9" />
<line x1="616.00" y1="302.50" x2="622.20" y2="302.50" stroke="#d8323c" stroke-width="0.9" />
<line x1="616.00" y1="311.50" x2="622.20" y2="311.50" stroke="#d8323c" stroke-width="0.9" />
<polygon points="615.80,304.80 622.40,304.80 619.10,310.60" fill="#d8323c"/>
<line x1="646.50" y1="272.70" x2="646.50" y2="280.40" stroke="#d8323c" stroke-width="0.9" />
<line x1="643.70" y1="272.50" x2="649.90" y2="272.50" stroke="#d8323c" stroke-width="0.9" />
<line x1="643.70" y1="280.50" x2="649.90" y2="280.50" stroke="#d8323c" stroke-width="0.9" />
<polygon points="643.50,273.30 650.10,273.30 646.80,279.10" fill="#d8323c"/>
<polygon points="671.20,259.70 677.80,259.70 674.50,265.50" fill="#d8323c"/>
<text x="508.30" y="361.35" text-anchor="middle" font-size="13.1" font-weight="bold" fill="#1c1c1c">*</text>
<text x="563.70" y="333.85" text-anchor="middle" font-size="13.1" font-weight="bold" fill="#1c1c1c">*</text>
<text x="591.40" y="316.85" text-anchor="middle" font-size="13.1" font-weight="bold" fill="#1c1c1c">*</text>
<text x="619.10" y="297.85" text-anchor="middle" font-size="13.1" font-weight="bold" fill="#1c1c1c">*</text>
<text x="646.80" y="270.55" text-anchor="middle" font-size="13.1" font-weight="bold" fill="#1c1c1c">*</text>
<text x="674.50" y="258.25" text-anchor="middle" font-size="13.1" font-weight="bold" fill="#1c1c1c">*</text>
<line x1="483.30" y1="262.50" x2="500.30" y2="262.50" stroke="#d8323c" stroke-width="1.1" />
<polygon points="488.50,259.80 495.10,259.80 491.80,265.60" fill="#d8323c"/>
<text transform="translate(504.60,265.80) scale(0.99,1)" text-anchor="start" font-size="12.5" fill="#2a2a2a" stroke="#2a2a2a" stroke-width="0.15" >[<tspan font-size="8.8" dy="-4.9" dx="0.2">3</tspan><tspan dy="4.9" dx="0.2">H]</tspan>FAC</text>
<line x1="483.30" y1="284.50" x2="500.30" y2="284.50" stroke="#1f5b3b" stroke-width="1.1" />
<circle cx="491.8" cy="284.2" r="2.3" fill="#1f5b3b"/>
<text transform="translate(504.60,287.60) scale(0.99,1)" text-anchor="start" font-size="12.5" fill="#2a2a2a" stroke="#2a2a2a" stroke-width="0.15" >[<tspan font-size="8.8" dy="-4.9" dx="0.2">3</tspan><tspan dy="4.9" dx="0.2">H]</tspan>dCyd</text>
<text transform="translate(577.70,431.40) scale(1.0,1)" text-anchor="middle" font-size="12.5" fill="#2a2a2a" stroke="#2a2a2a" stroke-width="0.15" >Probe incubation time (h)</text>
<text transform="translate(400.20,318.00) rotate(-90) scale(1.0,1)" text-anchor="middle" font-size="12.5" fill="#2a2a2a" stroke="#2a2a2a" stroke-width="0.15" >Probe accumulation</text>
<text transform="translate(416.40,318.00) rotate(-90) scale(1.0,1)" text-anchor="middle" font-size="12.5" fill="#2a2a2a" stroke="#2a2a2a" stroke-width="0.15" >(fmoles/well)</text>
</svg>
</body></html>
